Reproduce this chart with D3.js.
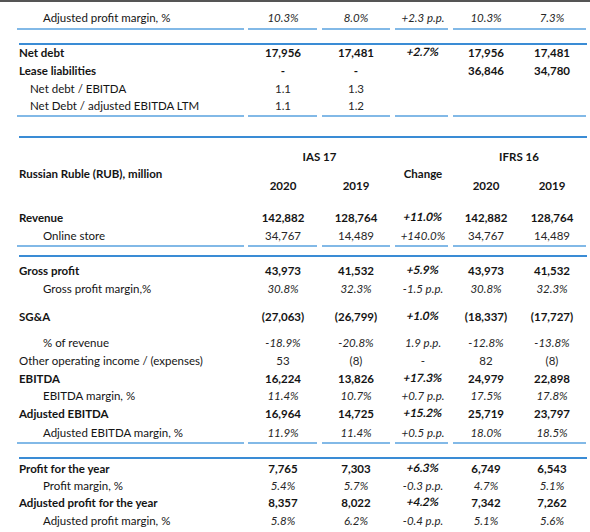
<!DOCTYPE html>
<html>
<head>
<meta charset="utf-8">
<script src="https://cdn.jsdelivr.net/npm/d3@7"></script>
<style>
  html, body { margin: 0; padding: 0; background: #fff; }
  svg { display: block; }
</style>
</head>
<body>
<svg id="chart" width="590" height="532"></svg>
<script>
// ---------- DATA ----------
const columns = ["ias2020", "ias2019", "change", "ifrs2020", "ifrs2019"];
const groupHeaders = ["IAS 17", "Change", "IFRS 16"];
const yearHeaders = ["2020", "2019", "", "2020", "2019"];
const unitLabel = "Russian Ruble (RUB), million";

const rowLabels = [
  "Adjusted profit margin, %",
  "Net debt", "Lease liabilities", "Net debt / EBITDA", "Net Debt / adjusted EBITDA LTM",
  "Revenue", "Online store",
  "Gross profit", "Gross profit margin,%",
  "SG&A", "% of revenue", "Other operating income / (expenses)",
  "EBITDA", "EBITDA margin, %", "Adjusted EBITDA", "Adjusted EBITDA margin, %",
  "Profit for the year", "Profit margin, %", "Adjusted profit for the year", "Adjusted profit margin, %"
];
// row kind: b = bold main row, s = indented sub row (italic values), n = plain row, n2 = indented plain row, d = ratio sub row
const rowKinds = ["s", "b", "b", "d", "d", "b", "n2", "b", "s", "b", "s", "n", "b", "s", "b", "s", "b", "s", "b", "s"];

const ias2020 = ["10.3%", "17,956", "-", "1.1", "1.1", "142,882", "34,767", "43,973", "30.8%", "(27,063)", "-18.9%", "53", "16,224", "11.4%", "16,964", "11.9%", "7,765", "5.4%", "8,357", "5.8%"];
const ias2019 = ["8.0%", "17,481", "-", "1.3", "1.2", "128,764", "14,489", "41,532", "32.3%", "(26,799)", "-20.8%", "(8)", "13,826", "10.7%", "14,725", "11.4%", "7,303", "5.7%", "8,022", "6.2%"];
const changes = ["+2.3 p.p.", "+2.7%", "", "", "", "+11.0%", "+140.0%", "+5.9%", "-1.5 p.p.", "+1.0%", "1.9 p.p.", "-", "+17.3%", "+0.7 p.p.", "+15.2%", "+0.5 p.p.", "+6.3%", "-0.3 p.p.", "+4.2%", "-0.4 p.p."];
const ifrs2020 = ["10.3%", "17,956", "36,846", "", "", "142,882", "34,767", "43,973", "30.8%", "(18,337)", "-12.8%", "82", "24,979", "17.5%", "25,719", "18.0%", "6,749", "4.7%", "7,342", "5.1%"];
const ifrs2019 = ["7.3%", "17,481", "34,780", "", "", "128,764", "14,489", "41,532", "32.3%", "(17,727)", "-13.8%", "(8)", "22,898", "17.8%", "23,797", "18.5%", "6,543", "5.1%", "7,262", "5.6%"];

// ---------- LAYOUT ----------
const svg = d3.select("#chart");
const FONT = "Lato, 'Open Sans', sans-serif";
const FS = 11.5;
const TEXT = "#141414";
const BLUE = "#3a8cd5";
const BLUE_LIGHT = "#58a2df";

// row center positions (layout, not data)
const rowY = [17, 52, 70, 88, 105, 217, 235, 270, 288, 316, 342, 360, 378, 395, 413, 432, 468, 485, 502, 520];
const headerY = { group: 156, unit: 173, change: 173, year: 185 };

const x = d3.scaleOrdinal().domain(columns).range([283, 356, 423, 486, 552]);
const segs = [[17, 244], [248, 317], [322, 390], [395, 448], [453, 586]];

const colValues = { ias2020, ias2019, change: changes, ifrs2020, ifrs2019 };

// top dark border
svg.append("rect").attr("x", 0).attr("y", 0).attr("width", 590).attr("height", 2).attr("fill", "#555");

// segmented block-bottom lines and full block-top lines
const segLineY = [29, 116, 246, 443];
const fullLineY = [44, 137, 256, 458];
segLineY.forEach(yy => {
  svg.append("g").selectAll("line").data(segs).join("line")
    .attr("x1", d => d[0]).attr("x2", d => d[1])
    .attr("y1", yy).attr("y2", yy)
    .attr("stroke", BLUE_LIGHT).attr("stroke-width", 1.5);
});
fullLineY.forEach(yy => {
  svg.append("line").attr("x1", 19).attr("x2", 587).attr("y1", yy).attr("y2", yy)
    .attr("stroke", BLUE).attr("stroke-width", 1.8);
});

// headers
const hdr = svg.append("g").attr("font-family", FONT).attr("font-size", FS).attr("font-weight", 700)
  .attr("fill", TEXT).attr("dominant-baseline", "central").attr("text-anchor", "middle");
hdr.append("text").attr("x", (x("ias2020") + x("ias2019")) / 2).attr("y", headerY.group).text(groupHeaders[0]);
hdr.append("text").attr("x", x("change")).attr("y", headerY.change).text(groupHeaders[1]);
hdr.append("text").attr("x", (x("ifrs2020") + x("ifrs2019")) / 2).attr("y", headerY.group).text(groupHeaders[2]);
hdr.selectAll(".yr").data(columns.map((c, i) => ({ c, t: yearHeaders[i] })).filter(d => d.t))
  .join("text").attr("class", "yr").attr("x", d => x(d.c)).attr("y", headerY.year).text(d => d.t);
hdr.append("text").attr("x", 19).attr("y", headerY.unit).attr("text-anchor", "start").text(unitLabel);

// rows
const rows = rowLabels.map((label, i) => ({ label, kind: rowKinds[i], y: rowY[i], i }));
const labelX = { b: 19, n: 19, s: 43, n2: 43, d: 30 };

const body = svg.append("g").attr("font-family", FONT).attr("font-size", FS).attr("dominant-baseline", "central");
body.selectAll(".lbl").data(rows).join("text").attr("class", "lbl")
  .attr("x", d => labelX[d.kind]).attr("y", d => d.y)
  .attr("font-weight", d => d.kind === "b" ? 700 : 400)
  .attr("fill", TEXT)
  .text(d => d.label);

const cells = [];
rows.forEach(r => {
  columns.forEach(c => {
    const v = colValues[c][r.i];
    if (v) cells.push({ r, c, v });
  });
});
const isItalic = d => d.r.kind === "s" || (d.c === "change" && d.r.kind !== "d" && d.r.kind !== "n");
const isBoldItalic = d => d.r.kind === "b" && d.c === "change";

body.selectAll(".cell").data(cells).join("text").attr("class", "cell")
  .attr("transform", d => `translate(${x(d.c)},${d.r.y})` + (isBoldItalic(d) ? " skewX(-11)" : ""))
  .attr("text-anchor", "middle")
  .attr("font-weight", d => d.r.kind === "b" ? 700 : 400)
  .attr("font-style", d => isItalic(d) && !isBoldItalic(d) ? "italic" : "normal")
  .attr("fill", d => d.r.kind === "b" ? TEXT : "#262626")
  .text(d => d.v);
</script>
</body>
</html>
